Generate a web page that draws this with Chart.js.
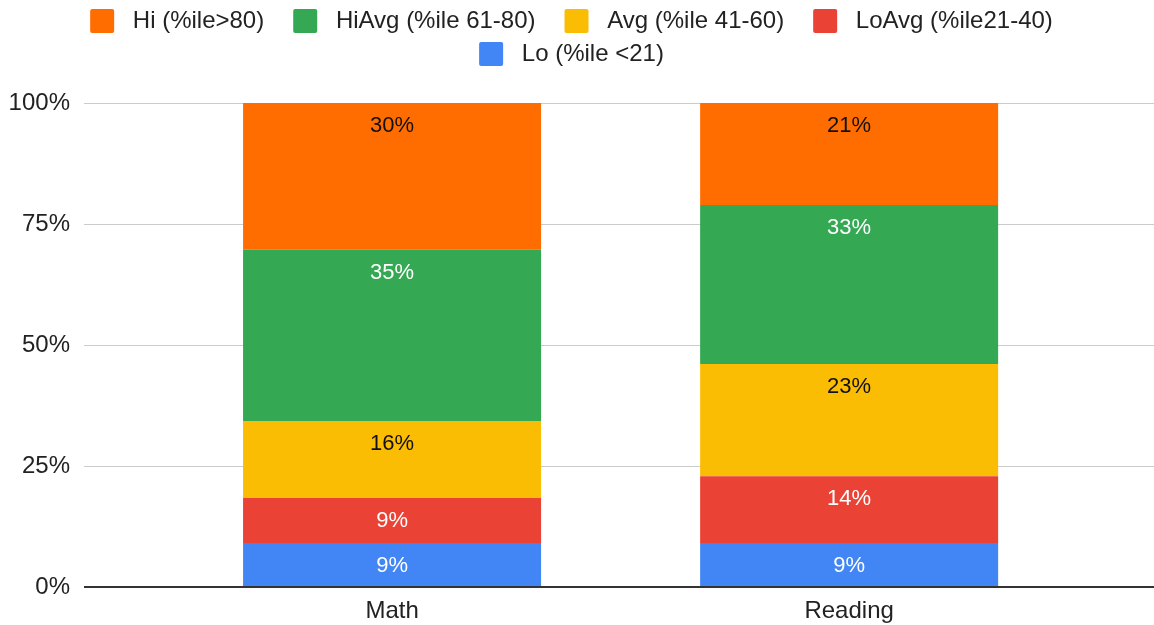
<!DOCTYPE html>
<html><head><meta charset="utf-8">
<script src="https://cdn.jsdelivr.net/npm/chart.js@4"></script>
<style>html,body{margin:0;padding:0;background:#fff}</style>
</head><body>
<canvas id="c" width="1154" height="625"></canvas>
<script>
const categories = ['Math', 'Reading'];
const seriesNames = ['Lo (%ile <21)', 'LoAvg (%ile21-40)', 'Avg (%ile 41-60)', 'HiAvg (%ile 61-80)', 'Hi (%ile>80)'];
const lo    = [9.1, 9.1];
const loAvg = [9.3, 13.8];
const avg   = [15.9, 23.2];
const hiAvg = [35.4, 32.8];
const hi    = [30.3, 21.1];
const yTicks = [0, 25, 50, 75, 100];

const seriesValues = [lo, loAvg, avg, hiAvg, hi];
const colors = ['#4285f4', '#ea4335', '#fbbc04', '#34a853', '#ff6d01'];
const labelColors = ['#ffffff', '#ffffff', '#111111', '#ffffff', '#111111'];
const FONT = '"Liberation Sans", Arial, sans-serif';

const datasets = seriesNames.map((name, i) => ({
  label: name,
  data: seriesValues[i].map((v, j) => ({ x: j, y: v })),
  backgroundColor: colors[i],
  borderWidth: 0
}));

const barLabels = {
  id: 'barLabels',
  afterDatasetsDraw(chart) {
    const ctx = chart.ctx;
    chart.data.datasets.forEach((ds, i) => {
      const meta = chart.getDatasetMeta(i);
      meta.data.forEach((bar, j) => {
        const v = ds.data[j].y;
        ctx.save();
        ctx.font = '22px ' + FONT;
        ctx.fillStyle = labelColors[i];
        ctx.textAlign = 'center';
        ctx.textBaseline = 'alphabetic';
        ctx.fillText(Math.round(v) + '%', bar.x, bar.y + 29);
        ctx.restore();
      });
    });
  }
};

const legendGap = {
  id: 'legendGap',
  beforeInit(chart) {
    const orig = chart.legend.fit;
    chart.legend.fit = function () {
      orig.call(this);
      this.height += 27;
    };
  }
};

new Chart(document.getElementById('c'), {
  type: 'bar',
  data: { datasets },
  plugins: [barLabels, legendGap],
  options: {
    responsive: false,
    animation: false,
    devicePixelRatio: 1,
    categoryPercentage: 1,
    barPercentage: 0.652,
    layout: { padding: { left: 9, right: 0, top: 0, bottom: 1 } },
    plugins: {
      tooltip: { enabled: false },
      legend: {
        position: 'top',
        reverse: true,
        labels: {
          boxWidth: 24,
          boxHeight: 24,
          padding: 9,
          useBorderRadius: true,
          borderRadius: 2,
          color: '#222',
          font: { family: FONT, size: 24 },
          generateLabels(chart) {
            const items = Chart.defaults.plugins.legend.labels.generateLabels(chart);
            items.forEach(it => { it.text = ' ' + it.text + '   '; it.lineWidth = 0; });
            return items;
          }
        }
      }
    },
    scales: {
      x: {
        type: 'linear',
        stacked: true,
        offset: false,
        min: -0.674,
        max: 1.667,
        grid: { display: false, drawTicks: false, offset: false },
        border: { display: false },
        afterBuildTicks(axis) { axis.ticks = categories.map((c, i) => ({ value: i })); },
        afterFit(axis) { axis.height = 37; },
        ticks: {
          padding: 10,
          color: '#222',
          font: { family: FONT, size: 24 },
          callback: (v) => categories[v]
        }
      },
      y: {
        stacked: true,
        min: 0,
        max: 100,
        afterBuildTicks(axis) { axis.ticks = yTicks.map(v => ({ value: v })); },
        afterFit(axis) { axis.width = 75; },
        grid: {
          drawTicks: false,
          color: (c) => (c.tick && c.tick.value === 0) ? '#333333' : '#cccccc',
          lineWidth: (c) => (c.tick && c.tick.value === 0) ? 2 : 1
        },
        border: { display: false },
        ticks: {
          padding: 14,
          color: '#222',
          font: { family: FONT, size: 24 },
          callback: (v) => v + '%'
        }
      }
    }
  }
});
</script>
</body></html>
